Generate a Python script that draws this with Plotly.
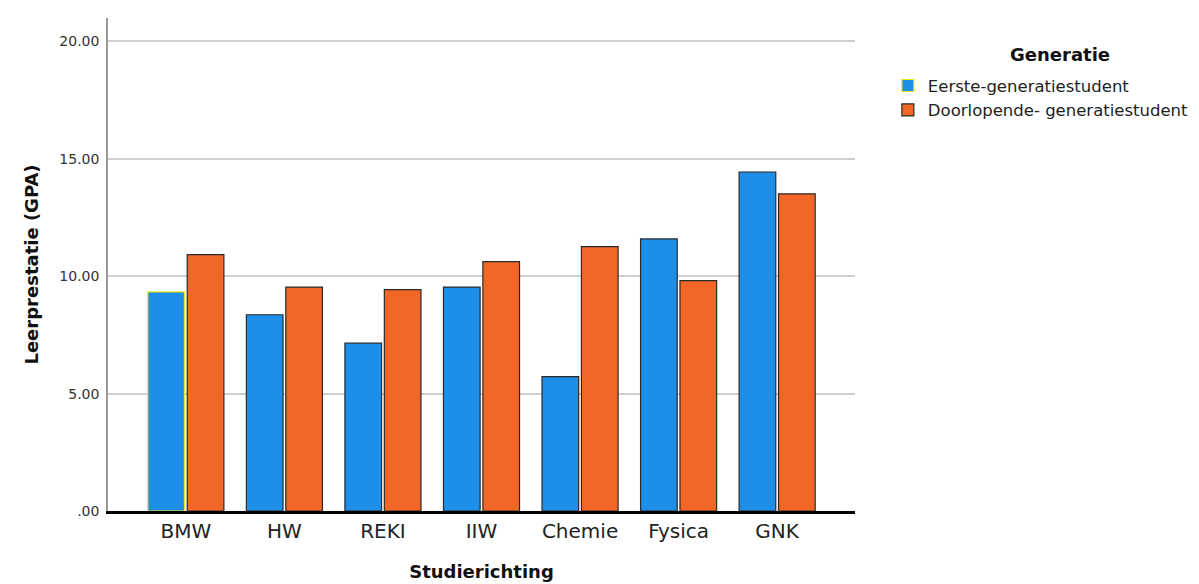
import plotly.graph_objects as go

categories = ["BMW", "HW", "REKI", "IIW", "Chemie", "Fysica", "GNK"]
eerste = [9.33, 8.36, 7.15, 9.54, 5.72, 11.59, 14.44]
doorlopende = [10.92, 9.54, 9.43, 10.62, 11.26, 9.81, 13.51]
series_names = ["Eerste-generatiestudent", "Doorlopende- generatiestudent"]
legend_title = "Generatie"
x_title = "Studierichting"
y_title = "Leerprestatie (GPA)"
y_tickvals = [0, 5, 10, 15, 20]
y_ticktext = [".00", "5.00", "10.00", "15.00", "20.00"]

BLUE = "#1e8fe8"
ORANGE = "#f26726"
FONT = "DejaVu Sans"

outline_blue = ["#e8e81a"] + ["#2a2a2a"] * (len(categories) - 1)

fig = go.Figure()
fig.add_trace(go.Bar(
    x=categories, y=eerste, name=series_names[0],
    marker=dict(color=BLUE, line=dict(color=outline_blue, width=1.2)),
))
fig.add_trace(go.Bar(
    x=categories, y=doorlopende, name=series_names[1],
    marker=dict(color=ORANGE, line=dict(color="#2a2a2a", width=1.2)),
))

fig.update_layout(
    width=1199, height=584,
    margin=dict(l=100, r=352, t=10, b=81),
    paper_bgcolor="white", plot_bgcolor="white",
    barmode="group", bargap=0.2, bargroupgap=0.07,
    font=dict(family=FONT, color="#222"),
    showlegend=True,
    legend=dict(
        x=1.044, y=0.898, xanchor="left", yanchor="top",
        font=dict(size=16.5, color="#222"),
        itemwidth=30, tracegroupgap=0,
        bgcolor="rgba(0,0,0,0)",
    ),
    xaxis=dict(
        type="category", range=[-0.79, 6.79],
        showline=True, linecolor="black", linewidth=3,
        showgrid=False, ticks="", tickfont=dict(size=20, color="#222"),
        title=dict(text="<b>" + x_title + "</b>", font=dict(size=18, color="#111"), standoff=24),
    ),
    yaxis=dict(
        range=[0, 21.0], tickvals=y_tickvals, ticktext=y_ticktext,
        showgrid=True, gridcolor="#cfcfcf", gridwidth=1.5,
        showline=True, linecolor="#999", linewidth=1.5,
        zeroline=False, ticks="", tickfont=dict(size=14, color="#333"),
        ticklabelstandoff=4,
    ),
)

fig.add_annotation(
    text="<b>" + y_title + "</b>", xref="paper", yref="paper",
    x=-0.103, y=0.5, xanchor="center", yanchor="middle", textangle=-90,
    showarrow=False, font=dict(size=18, color="#111"),
)

fig.add_annotation(
    text="<b>" + legend_title + "</b>", xref="paper", yref="paper",
    x=1.274, y=0.926, xanchor="center", yanchor="middle",
    showarrow=False, font=dict(size=18, color="#111"),
)

fig.add_shape(type="line", xref="paper", yref="paper",
              x0=1.466, x1=1.466, y0=-0.099, y1=-0.164,
              line=dict(color="#333", width=2))

fig.write_html("out.html")
